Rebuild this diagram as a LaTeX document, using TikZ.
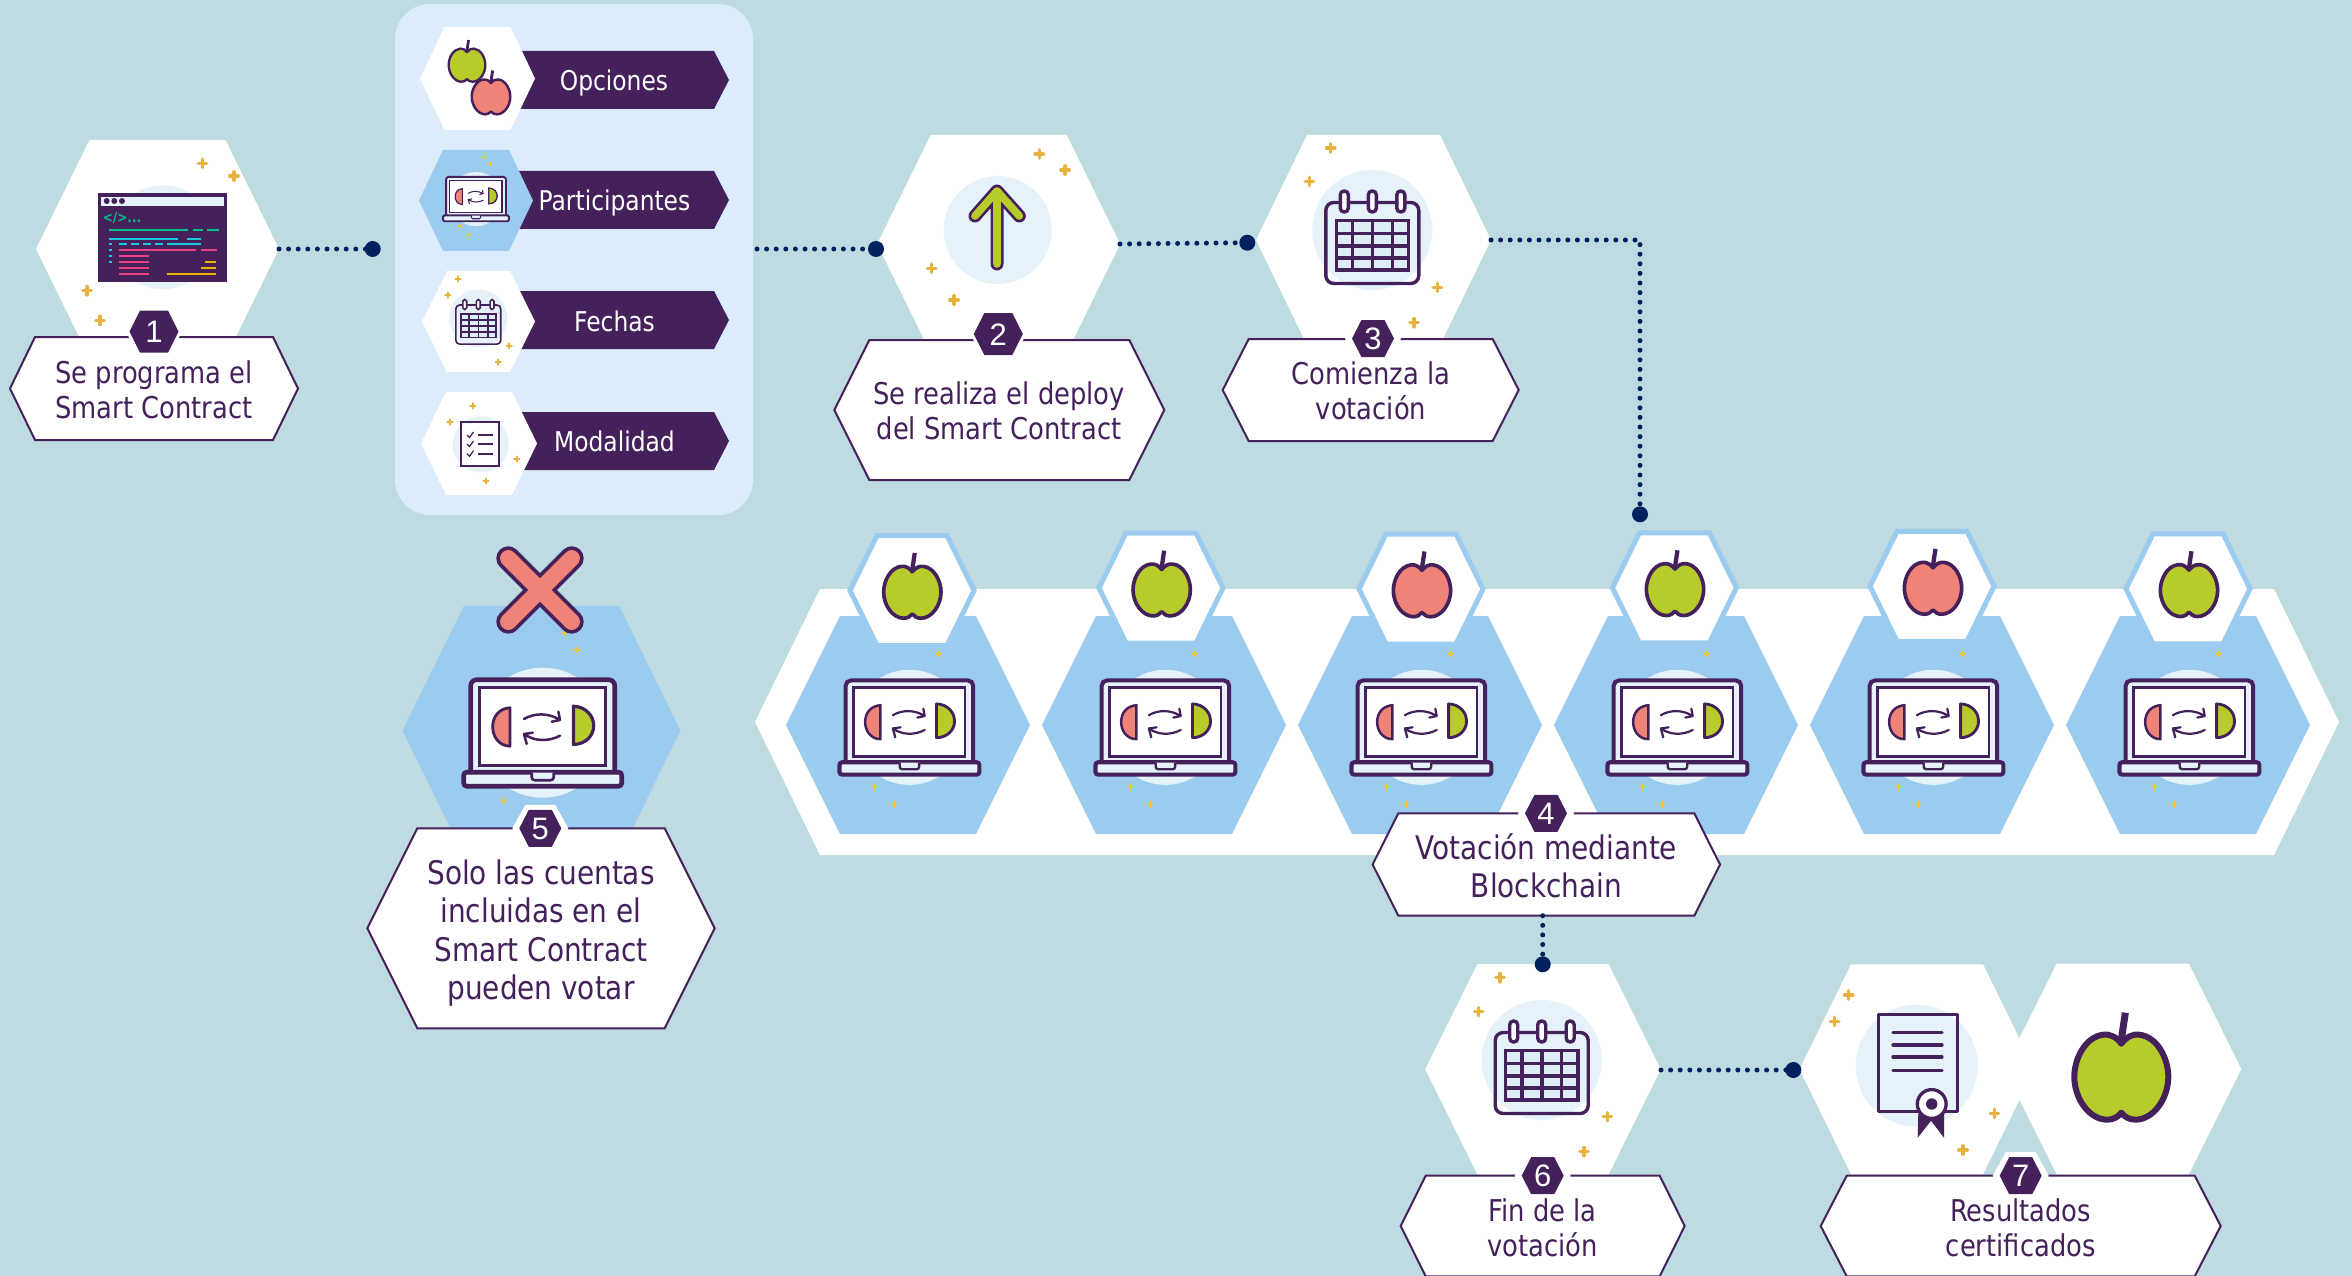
\documentclass[tikz,border=0pt]{standalone}
\usepackage{fontspec}
\setmainfont[FakeStretch=0.955]{DejaVu Sans Condensed}
\newfontfamily\digitfont{Liberation Sans}
\definecolor{bgc}{HTML}{BDDBE0}
\definecolor{panelc}{HTML}{DCECFA}
\definecolor{ink}{HTML}{45215C}
\definecolor{navy}{HTML}{002060}
\definecolor{skyc}{HTML}{9BCBEF}
\definecolor{tint}{HTML}{E5F2F9}
\definecolor{cellc}{HTML}{DDEDF5}
\definecolor{applegreen}{HTML}{B7CC2B}
\definecolor{applered}{HTML}{F08378}
\definecolor{goldc}{HTML}{E8B23F}
\definecolor{yelc}{HTML}{F2C630}
\definecolor{codegreen}{HTML}{00C08B}
\definecolor{codecyan}{HTML}{19C8E0}
\definecolor{codepink}{HTML}{E8417F}
\definecolor{codeyel}{HTML}{F0B400}
\tikzset{
  lbl/.style={text=ink,align=center,inner sep=0pt,font=\fontsize{30}{35}\selectfont},
  lblb/.style={text=ink,align=center,inner sep=0pt,font=\fontsize{32.5}{38.4}\selectfont},
  bantext/.style={text=white,inner sep=0pt,text height=21pt,text depth=6pt,font=\fontsize{27.2}{34}\selectfont},
  badgetext/.style={text=white,inner sep=0pt,font=\digitfont\fontsize{31}{34}\selectfont},
  dotline/.style={navy,line width=5pt,line cap=round,dash pattern=on 0pt off 9.6pt},
  enddot/.style={circle,fill=navy,minimum size=16pt,inner sep=0pt,draw=none},
  labelhex/.style={draw=ink,fill=white,line width=2pt,line join=miter},
  whitehex/.style={fill=white},
  bluehex/.style={fill=skyc},
  applehex/.style={fill=white,draw=skyc,line width=5pt,line join=miter},
  banner/.style={fill=ink},
  disc/.style={fill=tint},
}
\newcommand\hexa[6][]{\path[#1] ({#2-#4},#3) -- ({#2-#4+#6},{#3-#5}) -- ({#2+#4-#6},{#3-#5}) -- ({#2+#4},#3) -- ({#2+#4-#6},{#3+#5}) -- ({#2-#4+#6},{#3+#5}) -- cycle;}
\newcommand\spk[2]{\draw[goldc,line width=3.4pt,line cap=round] ({#1-4.2},#2) -- ({#1+4.2},#2) ({#1},{#2-4.2}) -- ({#1},{#2+4.2});}
\newcommand\spkm[2]{\draw[goldc,line width=2.2pt,line cap=round] ({#1-2.6},#2) -- ({#1+2.6},#2) ({#1},{#2-2.6}) -- ({#1},{#2+2.6});}
\newcommand\spkt[3][3.4]{\draw[yelc,line width=1.1pt] ({#2-#1},#3) -- ({#2+#1},#3) ({#2},{#3-#1}) -- ({#2},{#3+#1});}
\newcommand\badge[4]{% name, x, y, digit
  \hexa[fill=white]{#2}{#3}{28}{23.5}{13}
  \hexa[fill=ink]{#2}{#3}{21}{18.5}{9.5}
  \node[badgetext] (#1) at (#2,{#3+0.6}) {#4};}
\newcommand\bigbadge[4]{%
  \hexa[fill=white]{#2}{#3}{28}{25}{13}
  \hexa[fill=ink]{#2}{#3}{24.5}{21}{10.5}
  \node[badgetext] (#1) at (#2,{#3+0.6}) {#4};}
\newcommand\laptop[3]{\begin{scope}[shift={({#1},{#2})},scale=#3]
  \fill[disc] (0,0) circle[radius=65];
  \draw[ink,fill=tint,line width={4.6*#3},rounded corners={6pt*#3}] (-72,40) -- (-72,-53) -- (72,-53) -- (72,40);
  \draw[ink,fill=white,line width={3.2*#3}] (-63.6,-45) rectangle (62.8,33);
  \draw[ink,fill=tint,line width={4.6*#3},rounded corners={3pt*#3}] (-79,39.5) -- (79,39.5) -- (79,53.5) -- (-79,53.5) -- cycle;
  \draw[ink,fill=tint,line width={2.6*#3},rounded corners={3pt*#3}] (-11,40) -- (-11,47.5) -- (11,47.5) -- (11,40);
  \draw[ink,fill=applered,line width={2.8*#3},line join=round] (-32.7,-25) .. controls (-44,-24) and (-50,-16) .. (-50,-6) .. controls (-50,4) and (-44,13) .. (-32.7,13.5) -- cycle;
  \draw[ink,fill=applegreen,line width={3.2*#3},line join=round] (30.7,-26.5) .. controls (43,-26) and (51,-17) .. (51,-7) .. controls (51,3) and (43,11.5) .. (30.7,11.8) -- cycle;
  \draw[ink,line width={2.5*#3},line cap=round,line join=round] (-18.7,-13.7) .. controls (-8,-20) and (6,-20) .. (17.3,-12.7) (15.7,-21) -- (17.3,-12.7) -- (9,-11);
  \draw[ink,line width={2.5*#3},line cap=round,line join=round] (17.3,3) .. controls (6,9) and (-8,9) .. (-18.7,1.3) (-16,11.3) -- (-18.7,1.3) -- (-10,0);
\end{scope}}
\newcommand\caldraw[3]{\begin{scope}[shift={({#1},{#2})},scale=#3]
  \fill[disc] (0,0) circle[radius=60];
  \draw[ink,fill=none,line width={3.4*#3},rounded corners={8pt*#3}] (-46.5,-27.5) rectangle (46.5,53.5);
  \draw[ink,fill=cellc,line width={3.4*#3}] (-36,-9.5) rectangle (36.4,40);
  \draw[ink,line width={3.2*#3}] (-19.7,-9.5) -- (-19.7,40) (0.3,-9.5) -- (0.3,40) (20,-9.5) -- (20,40) (-36,3.3) -- (36.4,3.3) (-36,16) -- (36.4,16) (-36,28) -- (36.4,28);
  \foreach \cx in {-28,0,28.5}{\draw[ink,fill=white,line width={3.4*#3},rounded corners={3.8pt*#3}] ({\cx-4},-39) rectangle ({\cx+4},-18);}
\end{scope}}
\newcommand\apple[4]{\begin{scope}[shift={({#1},{#2})},scale=#3]
  \draw[ink,line width={7*#3}] (-1,-30) -- (4,-64);
  \draw[ink,fill=#4,line width={6*#3},line join=round] (0,-33) .. controls (5,-40) and (12,-43) .. (18,-42) .. controls (36,-40) and (47,-18) .. (47,0) .. controls (47,22) and (32,43) .. (14,43) .. controls (8,43) and (3,40) .. (0,36) .. controls (-3,40) and (-8,43) .. (-14,43) .. controls (-32,43) and (-47,22) .. (-47,0) .. controls (-47,-18) and (-36,-40) .. (-18,-42) .. controls (-12,-43) and (-5,-40) .. cycle;
\end{scope}}
\newcommand\codel[4]{\draw[#1,line width=1.7pt] (#2,#4) -- (#3,#4);}
\begin{document}
\begin{tikzpicture}[x=1pt,y=-1pt]
\useasboundingbox (0,0) rectangle (2351,1276);
\fill[bgc] (0,0) rectangle (2351,1276);

% ---- step 1
\hexa[whitehex]{157.5}{249}{121.5}{109}{53.5}
\fill[disc] (162.7,237.3) circle[radius=52];
\fill[ink] (98.3,192.7) rectangle (226.7,282.3);
\fill[tint] (101.3,196.7) rectangle (224,206);
\foreach \dx in {106.7,114.3,122}{\fill[ink] (\dx,201) circle[radius=3];}
\begin{scope}[shift={(0,120)},x=0.33333pt,y=-0.33333pt]
\codel{codegreen}{326}{565}{330}\codel{codegreen}{580}{610}{330}\codel{codegreen}{620}{657}{330}
\codel{codecyan}{326}{535}{356}\codel{codecyan}{562}{603}{356}
\codel{codecyan}{326}{336}{372}\codel{codecyan}{357}{381}{372}\codel{codecyan}{393}{417}{372}\codel{codecyan}{430}{453}{372}\codel{codecyan}{465}{490}{372}\codel{codecyan}{500}{603}{372}
\codel{codecyan}{326}{336}{390}\codel{codecyan}{326}{336}{408}\codel{codecyan}{326}{336}{426}
\codel{codepink}{356}{587}{390}\codel{codepink}{603}{650}{390}\codel{codepink}{356}{446}{408}\codel{codepink}{356}{446}{426}\codel{codepink}{356}{446}{444}\codel{codepink}{356}{446}{463}
\codel{codeyel}{615}{647}{426}\codel{codeyel}{603}{647}{444}\codel{codeyel}{500}{647}{463}
\end{scope}
\node[text=codegreen,inner sep=0pt,font=\fontsize{14}{14}\selectfont\bfseries] (codetag) at (122,218.5) {</>...};
\spk{202.3}{163.3}\spk{234}{176}\spk{87}{290.7}\spk{100}{320.3}
\hexa[labelhex]{154}{388.5}{144}{51.5}{25}
\bigbadge{b1}{154}{331.7}{1}
\node[lbl] (t1) at (154,390) {Se programa el\\Smart Contract};

% ---- panel
\fill[panelc,rounded corners=35pt] (395,4) rectangle (753,515);
\path[banner] (505,51) -- (714,51) -- (729,80) -- (714,109) -- (505,109) -- cycle;
\path[banner] (505,171) -- (714,171) -- (729,200) -- (714,229) -- (505,229) -- cycle;
\path[banner] (505,291) -- (714,291) -- (729,320) -- (714,349) -- (505,349) -- cycle;
\path[banner] (505,412) -- (714,412) -- (729,441) -- (714,470) -- (505,470) -- cycle;
\hexa[whitehex]{477.5}{78.5}{57.5}{51.5}{24.5}
\hexa[bluehex]{476}{200.5}{57}{50.5}{24}
\hexa[whitehex]{478.5}{321.5}{56.5}{50.5}{25}
\hexa[whitehex]{479}{443.5}{58}{51.5}{25}
\apple{467}{65}{0.39}{applegreen}
\apple{491}{96.7}{0.41}{applered}
\laptop{476}{199}{0.416}
\spkt[2]{484.3}{157.3}\spkt[2]{490}{164.3}\spkt[2]{459.7}{226}\spkt[2]{468.7}{234.7}
\caldraw{478.3}{318.3}{0.483}
\spkm{458}{278.7}\spkm{447.7}{295}\spkm{509.3}{345.7}\spkm{498.3}{362.3}
\fill[disc] (480.7,444.3) circle[radius=28];
\draw[ink,fill=white,line width=1.6pt] (461,421.7) rectangle (498.7,466);
\foreach \ly in {435,444,453.7}{
  \draw[ink,line width=1.6pt] (478.3,\ly) -- (493.3,\ly);
  \draw[ink,line width=1.2pt] (467,\ly) -- (469.5,{\ly+2.5}) -- (473.5,{\ly-3});
}
\spkm{472.7}{405.7}\spkm{450}{422.3}\spkm{516.7}{459}\spkm{486}{481}
\node[bantext] (p1) at (614,83) {Opciones};
\node[bantext] (p2) at (614.5,203.5) {Participantes};
\node[bantext] (p3) at (614.5,323.5) {Fechas};
\node[bantext] (p4) at (614.5,443.5) {Modalidad};

% ---- step 2
\hexa[whitehex]{998.7}{244}{121.5}{109}{53.5}
\fill[disc] (997.7,230) circle[radius=54];
\draw[ink,line width=13pt,line cap=round,line join=round] (997,264) -- (997,191) (975,216) -- (997,191) -- (1019.3,216);
\draw[applegreen,line width=7.6pt,line cap=round,line join=round] (997,264) -- (997,191) (975,216) -- (997,191) -- (1019.3,216);
\spk{1039.3}{154}\spk{1065}{170}\spk{931.7}{268.3}\spk{954}{300}
\hexa[labelhex]{999.3}{410}{165}{70}{35}
\bigbadge{b2}{998.3}{334}{2}
\node[lbl] (t2) at (999,411) {Se realiza el deploy\\del Smart Contract};

% ---- step 3
\hexa[whitehex]{1373.5}{240}{117.5}{105}{51}
\caldraw{1372.3}{230}{1}
\spk{1330.7}{148}\spk{1309.3}{181.7}\spk{1437.3}{287.3}\spk{1414}{322.7}
\hexa[labelhex]{1370.7}{390}{148}{51}{26}
\badge{b3}{1373}{338.5}{3}
\node[lbl] (t3) at (1371,391) {Comienza la\\votación};

% ---- step 5 (left laptop)
\hexa[bluehex]{541.5}{730.7}{139}{124.7}{61.3}
\laptop{542.7}{732.7}{1}
\spkt{564}{632.7}\spkt{576.7}{650}\spkt{504}{800.7}
\draw[ink,line width=24pt,line cap=round] (508.3,558.3) -- (571.7,621.7) (571.7,558.3) -- (508.3,621.7);
\draw[applered,line width=16.5pt,line cap=round] (508.3,558.3) -- (571.7,621.7) (571.7,558.3) -- (508.3,621.7);
\hexa[labelhex]{541}{928.3}{173.7}{100}{50}
\badge{b5}{540.3}{828.3}{5}
\node[lblb] (t5) at (541,933) {Solo las cuentas\\incluidas en el\\Smart Contract\\pueden votar};

% ---- step 4 (band of laptops)
\hexa[whitehex]{1547}{722}{792}{133}{65}
\foreach \hx in {908,1164,1420,1676,1932,2188}{
  \hexa[bluehex]{\hx}{725}{122}{109}{54}
  \laptop{\hx+1.4}{727.3}{0.885}
  \spkt{\hx+31}{654}\spkt{\hx-33.3}{786.7}\spkt{\hx-14}{804.3}
}
\hexa[applehex]{912}{590.5}{62}{55}{27}
\apple{912.3}{592}{0.61}{applegreen}
\hexa[applehex]{1161}{588}{62}{55}{27}
\apple{1161.7}{589.7}{0.61}{applegreen}
\hexa[applehex]{1421}{589}{62}{55}{27}
\apple{1422}{590.5}{0.61}{applered}
\hexa[applehex]{1674.4}{587.8}{62}{55}{27}
\apple{1675}{589.3}{0.61}{applegreen}
\hexa[applehex]{1932}{586.3}{62}{55}{27}
\apple{1933}{588}{0.61}{applered}
\hexa[applehex]{2188}{588.8}{62}{55}{27}
\apple{2189}{590.3}{0.61}{applegreen}
\hexa[labelhex]{1546.3}{864.5}{173.7}{51.2}{25.7}
\badge{b4}{1546}{813.3}{4}
\node[lblb] (t4) at (1546.5,865.5) {Votación mediante\\Blockchain};

% ---- step 6
\hexa[whitehex]{1543}{1069.3}{117.8}{105.3}{52.3}
\caldraw{1541.7}{1060}{1}
\spk{1500}{977.7}\spk{1478.7}{1011.7}\spk{1607.3}{1116.7}\spk{1584}{1151.7}
\hexa[labelhex]{1542.7}{1226}{142}{50.3}{25}
\badge{b6}{1542.7}{1175.7}{6}
\node[lbl] (t6) at (1542.7,1228) {Fin de la\\votación};

% ---- step 7
\hexa[whitehex]{1917}{1069.3}{117.5}{105}{51.5}
\hexa[whitehex]{2122.7}{1069}{118.6}{105.5}{52.6}
\fill[disc] (1916.7,1065.7) circle[radius=61];
\draw[ink,line width=3pt,line join=round] (1878.8,1014.8) rectangle (1957.2,1111.8);
\foreach \ly in {1032.7,1045,1057,1070.3}{\draw[ink,line width=3.3pt,line cap=round] (1893,\ly) -- (1942,\ly);}
\fill[ink] (1918.3,1113) -- (1917.7,1137.7) -- (1931,1120.7) -- (1944,1137.7) -- (1944,1113) -- cycle;
\draw[ink,fill=white,line width=3.3pt] (1931.7,1104) circle[radius=14.4];
\fill[ink] (1931.7,1104) circle[radius=5.7];
\spk{1848.7}{995}\spk{1834.7}{1021.3}\spk{1994.3}{1113.3}\spk{1963}{1150}
\apple{2121.3}{1076.7}{1}{applegreen}
\hexa[labelhex]{2020.7}{1226}{200}{50.3}{26}
\badge{b7}{2020.7}{1175.7}{7}
\node[lbl] (t7) at (2020.7,1228) {Resultados\\certificados};

% ---- connectors
\coordinate (s1) at (279,249);
\node[enddot] (d1) at (372.7,249) {};
\draw[dotline] (s1) -- (d1.center);
\coordinate (s2) at (757,249);
\node[enddot] (d2) at (876,249) {};
\draw[dotline] (s2) -- (d2.center);
\coordinate (s3) at (1120,244);
\node[enddot] (d3) at (1247.3,242.7) {};
\draw[dotline] (s3) -- (d3.center);
\coordinate (s4) at (1491,240);
\coordinate (c4) at (1640,240);
\node[enddot] (d4) at (1640,514.3) {};
\draw[dotline] (s4) -- (c4) -- (d4.center);
\coordinate (s5) at (1542.7,915.7);
\node[enddot] (d5) at (1542.7,964.3) {};
\draw[dotline] (s5) -- (d5.center);
\coordinate (s6) at (1661,1070);
\node[enddot] (d6) at (1793.3,1070) {};
\draw[dotline] (s6) -- (d6.center);
\end{tikzpicture}
\end{document}
